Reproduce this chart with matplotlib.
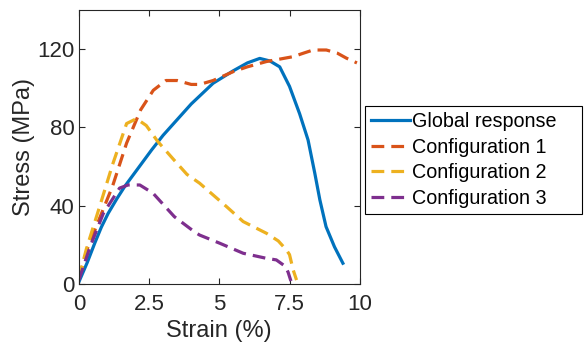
import matplotlib.pyplot as plt

plt.rcParams['font.family'] = ['Liberation Sans', 'DejaVu Sans']

# Global response
g_strain = [0, 0.3, 0.57, 0.8, 1.04, 1.35, 1.64, 2.0, 2.59, 3.0, 3.5, 4.0, 4.78, 5.5, 6.0, 6.44, 6.8, 7.15, 7.5, 7.86, 8.16, 8.4, 8.58, 8.8, 9.1, 9.4]
g_stress = [1, 11, 21, 29, 36, 43.5, 50, 57, 68.5, 76, 84, 92, 102.6, 109, 113, 115.3, 114, 111, 101, 87, 73.6, 56.6, 43, 29.3, 19, 10.6]

# Configuration 1
c1_strain = [0, 0.3, 0.75, 1.2, 1.7, 2.2, 2.65, 3.1, 3.5, 4.0, 4.3, 4.78, 5.49, 6.0, 6.68, 7.63, 8.0, 8.34, 8.81, 9.2, 9.53, 9.9]
c1_stress = [3, 18, 34, 50, 72, 89, 99, 104, 104, 102, 102, 104, 108.5, 111, 113.7, 116.2, 118, 119.6, 119.6, 118, 115.4, 113]

# Configuration 2
c2_strain = [0, 0.27, 0.75, 1.2, 1.7, 2.05, 2.4, 2.8, 3.35, 3.85, 4.3, 5.26, 5.85, 6.68, 7.1, 7.39, 7.5, 7.63, 7.75]
c2_stress = [3, 18, 40, 61, 82, 84.5, 81, 73, 64, 56, 51.5, 39.5, 31.9, 25.9, 22, 17.4, 15, 7.2, 2]

# Configuration 3
c3_strain = [0, 0.4, 0.87, 1.45, 1.75, 2.17, 2.64, 3.4, 4.13, 4.3, 5.02, 5.85, 6.68, 7.03, 7.35, 7.45, 7.55]
c3_stress = [2, 19, 36, 49, 50.6, 50.6, 46.4, 34.4, 26.5, 25, 20.8, 15.7, 13.1, 12.3, 9, 6, 1.5]

fig = plt.figure(figsize=(5.84, 3.48), dpi=100)
ax = fig.add_axes([0.135, 0.184, 0.481, 0.787])

dash = (0, (4, 2.2))
ax.plot(g_strain, g_stress, color='#0072BD', lw=2.3, label='Global response')
ax.plot(c1_strain, c1_stress, color='#D95319', lw=2.3, ls=dash, label='Configuration 1')
ax.plot(c2_strain, c2_stress, color='#EDB120', lw=2.3, ls=dash, label='Configuration 2')
ax.plot(c3_strain, c3_stress, color='#7E2F8E', lw=2.3, ls=dash, label='Configuration 3')

ax.set_xlim(0, 10)
ax.set_ylim(0, 140)
ax.set_xticks([0, 2.5, 5, 7.5, 10])
ax.set_xticklabels(['0', '2.5', '5', '7.5', '10'])
ax.set_yticks([0, 40, 80, 120])
ax.tick_params(direction='in', top=True, right=True, labelsize=16, length=4, colors='#262626', labelcolor='#262626', pad=3)
ax.tick_params(axis='x', pad=7.5)
for s in ax.spines.values():
    s.set_color('#262626')
    s.set_linewidth(0.8)

ax.set_xlabel('Strain (%)', fontsize=17, color='#262626', labelpad=3)
ax.set_ylabel('Stress (MPa)', fontsize=17, color='#262626', labelpad=2)

leg = ax.legend(loc='center left', bbox_to_anchor=(1.018, 0.248, 0.772, 0.409), mode='expand',
                fontsize=14.2, frameon=True, fancybox=False, edgecolor='black', framealpha=1,
                handlelength=2.0, handletextpad=0.1, borderpad=0.3, labelspacing=0.33,
                borderaxespad=0)
leg.get_frame().set_linewidth(0.8)

fig.savefig('out.png', dpi=100)
